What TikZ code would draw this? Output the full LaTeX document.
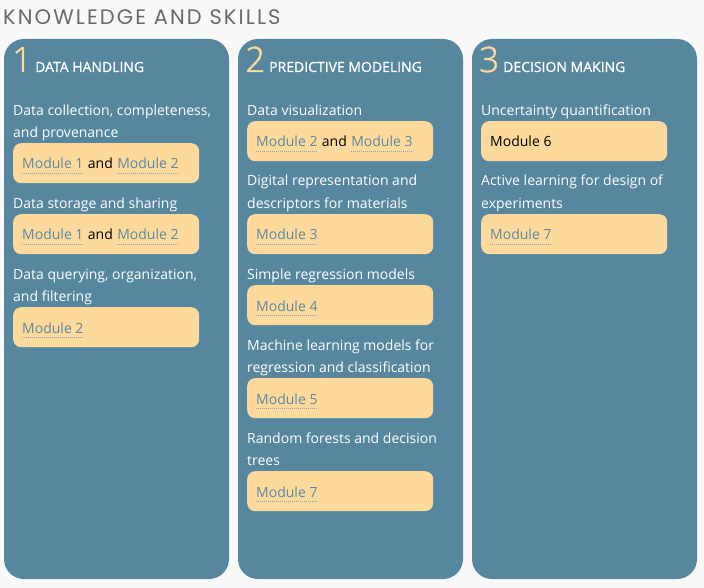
\documentclass[tikz,border=0pt]{standalone}
\usepackage{fontspec}
\setmainfont{Open Sans}
\newfontfamily\titlefont{Poppins}[LetterSpace=10]
\newfontfamily\thinfont{Open Sans Light}[FakeBold=1.4]
\newfontfamily\headfont{Open Sans}[FakeBold=0.9]
\definecolor{pagebg}{HTML}{F8F8F8}
\definecolor{panelblue}{HTML}{56879F}
\definecolor{boxsand}{HTML}{FDD99B}
\definecolor{linkblue}{HTML}{5A88A1}
\definecolor{titlegray}{HTML}{6A6A6A}
\tikzset{
  panel/.style={fill=panelblue, draw=none, rounded corners=20pt},
  modbox/.style={fill=boxsand, draw=none, rounded corners=8pt, anchor=north west,
    minimum width=186pt, minimum height=40pt, inner sep=0pt},
  txt/.style={anchor=base west, inner sep=0pt, yshift=-1pt, font=\fontsize{14}{16}\selectfont},
  label/.style={txt, text=white},
  link/.style={txt, text=linkblue},
  plain/.style={txt, text=black},
  digit/.style={anchor=base west, inner sep=0pt, text=boxsand, font=\thinfont\fontsize{35}{36}\selectfont},
  head/.style={anchor=base west, inner sep=0pt, text=white, font=\headfont\fontsize{14}{16}\selectfont},
  dotline/.style={draw=linkblue!75, line width=0.7pt, dash pattern=on 0.7pt off 1.3pt},
}
% a module reference: text with a dotted underline
\newcommand\modlink[3]{%
  \node[link] (#1) at #2 {#3};
  \draw[dotline] ([yshift=-4.5pt]#1.base west) -- ([yshift=-4.5pt]#1.base east);}
% "Module a and Module b" on one line
\newcommand\modpair[4]{%
  \modlink{#1a}{#2}{#3}
  \node[plain, yshift=1pt] (#1and) at ([xshift=4pt]#1a.base east) {and};
  \modlink{#1b}{([xshift=4pt,yshift=1pt]#1and.base east)}{#4}}
\begin{document}
\begin{tikzpicture}[x=1pt, y=-1pt]
  \fill[pagebg] (0,0) rectangle (704,588);
  \useasboundingbox (0,0) rectangle (704,588);

  \node[anchor=base west, inner sep=0pt, text=titlegray, font=\titlefont\fontsize{21}{22}\selectfont]
    (title) at (3,25) {KNOWLEDGE AND SKILLS};

  % panels
  \fill[panel] (4,39) rectangle (229,579);
  \fill[panel] (238,39) rectangle (463,579);
  \fill[panel] (472,39) rectangle (697,579);

  % ---- 1 Data handling
  \node[digit] (d1) at (12,72) {1};
  \node[head] (h1) at (35,72) {DATA HANDLING};
  \node[label] (t11) at (13,115) {Data collection, completeness,};
  \node[label] (t12) at (13,137) {and provenance};
  \node[modbox] (b11) at (13,143) {};
  \modpair{p11}{(22,168)}{Module 1}{Module 2}
  \node[label] (t13) at (13,207) {Data storage and sharing};
  \node[modbox] (b12) at (13,214) {};
  \modpair{p12}{(22,239)}{Module 1}{Module 2}
  \node[label] (t14) at (13,278) {Data querying, organization,};
  \node[label] (t15) at (13,300) {and filtering};
  \node[modbox] (b13) at (13,307) {};
  \modlink{m13}{(22,332)}{Module 2}

  % ---- 2 Predictive modeling
  \node[digit] (d2) at (245,72) {2};
  \node[head] (h2) at (269,72) {PREDICTIVE MODELING};
  \node[label] (t21) at (247,115) {Data visualization};
  \node[modbox] (b21) at (247,121) {};
  \modpair{p21}{(256,146)}{Module 2}{Module 3}
  \node[label] (t22) at (247,185) {Digital representation and};
  \node[label] (t23) at (247,207) {descriptors for materials};
  \node[modbox] (b22) at (247,214) {};
  \modlink{m22}{(256,239)}{Module 3}
  \node[label] (t24) at (247,278) {Simple regression models};
  \node[modbox] (b23) at (247,285) {};
  \modlink{m23}{(256,310)}{Module 4}
  \node[label] (t25) at (247,349) {Machine learning models for};
  \node[label] (t26) at (247,371) {regression and classification};
  \node[modbox] (b24) at (247,378) {};
  \modlink{m24}{(256,403)}{Module 5}
  \node[label] (t27) at (247,442) {Random forests and decision};
  \node[label] (t28) at (247,464) {trees};
  \node[modbox] (b25) at (247,471) {};
  \modlink{m25}{(256,496)}{Module 7}

  % ---- 3 Decision making
  \node[digit] (d3) at (479,72) {3};
  \node[head] (h3) at (503,72) {DECISION MAKING};
  \node[label] (t31) at (481,115) {Uncertainty quantification};
  \node[modbox] (b31) at (481,121) {};
  \node[plain] (m31) at (490,146) {Module 6};
  \node[label] (t32) at (481,185) {Active learning for design of};
  \node[label] (t33) at (481,207) {experiments};
  \node[modbox] (b32) at (481,214) {};
  \modlink{m32}{(490,239)}{Module 7}
\end{tikzpicture}
\end{document}
